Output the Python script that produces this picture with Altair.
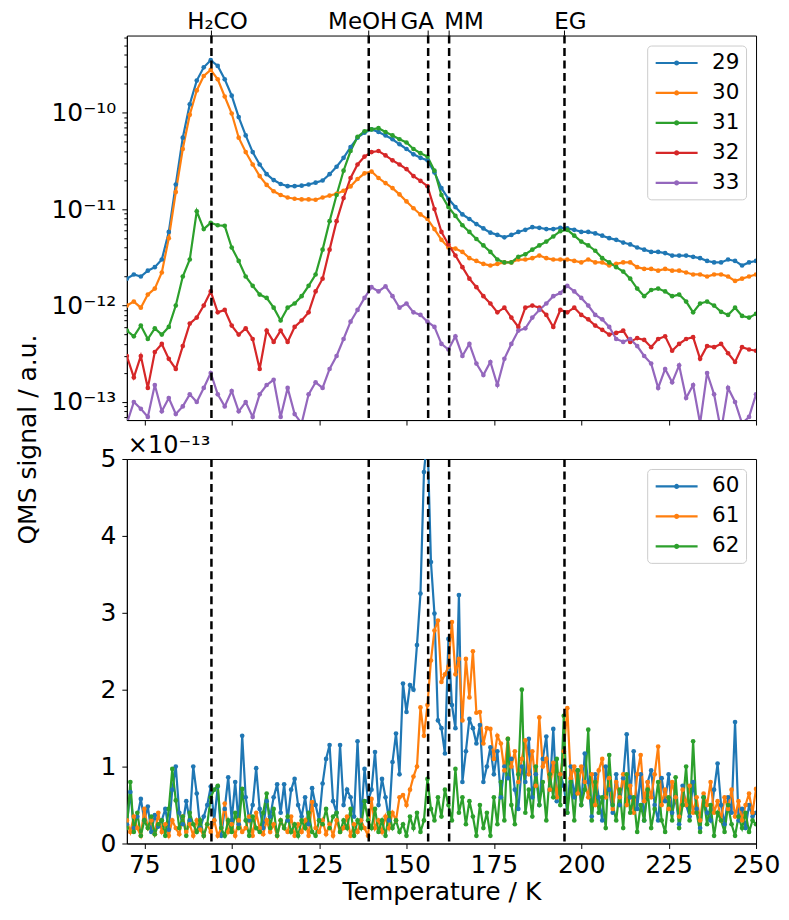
import altair as alt
import pandas as pd

FONT = "DejaVu Sans"

# ---------------- data ----------------
T_TOP = list(range(70, 251, 2))      # K, top panel sampling
T_BOT = list(range(70, 251))         # K, bottom panel sampling

MASS_TOP = ["29", "30", "31", "32", "33"]
MASS_BOT = ["60", "61", "62"]
COL_TOP = ["#1f77b4", "#ff7f0e", "#2ca02c", "#d62728", "#9467bd"]
COL_BOT = ["#1f77b4", "#ff7f0e", "#2ca02c"]

# top panel signals, units of 1e-12 a.u.
M29 = [1.9, 2.1, 2.0, 2.3, 2.5, 3.0, 5.8, 18, 55, 122,
       215, 295, 350, 305, 222, 150, 90, 58, 39, 29,
       23, 20, 18.2, 17.3, 17.3, 17.5, 18, 18.8, 19.8, 23,
       27.5, 34, 44, 55, 62, 67, 63, 58, 53, 47,
       42, 37, 34, 32, 24, 16.5, 12.8, 10.5, 8.8, 7.9,
       7.0, 6.3, 5.7, 5.4, 5.1, 5.4, 5.8, 6.1, 6.5, 6.4,
       6.2, 6.2, 6.4, 6.3, 6.1, 5.8, 5.8, 5.6, 5.3, 5.0,
       4.8, 4.5, 4.3, 4.0, 3.8, 3.6, 3.6, 3.5, 3.3, 3.3,
       3.3, 3.2, 3.1, 2.9, 2.8, 2.8, 3.0, 2.9, 2.6, 2.8,
       2.9]
M30 = [1.0, 1.1, 0.95, 1.3, 1.5, 2.2, 5.0, 15, 42, 95,
       170, 240, 278, 222, 147, 98, 55, 39, 29, 22,
       17.8, 15.3, 14.0, 13.2, 12.8, 12.6, 12.6, 12.5, 13.2, 13.8,
       14.4, 15.5, 17.2, 20.5, 23.5, 24.5, 21, 18.6, 16.5, 14.2,
       12.0, 10.2, 8.8, 7.9, 6.2, 4.8, 4.0, 3.9, 3.6, 3.1,
       2.9, 2.7, 2.6, 2.7, 2.8, 2.8, 3.0, 3.0, 3.1, 3.3,
       3.1, 3.0, 3.0, 3.0, 2.9, 2.8, 3.0, 2.8, 2.8, 2.6,
       2.7, 2.8, 2.8, 2.5, 2.4, 2.4, 2.3, 2.4, 2.3, 2.3,
       2.2, 2.1, 2.1, 2.0, 2.1, 2.1, 2.0, 1.8, 1.9, 2.0,
       2.1]
M31 = [0.55, 0.48, 0.62, 0.45, 0.58, 0.5, 0.6, 1.0, 2.0, 3.0,
       9.5, 6.2, 7.2, 6.8, 6.7, 4.0, 2.9, 2.0, 1.6, 1.3,
       1.2, 0.95, 0.7, 0.95, 1.05, 1.25, 1.6, 2.1, 3.8, 7.5,
       14, 25, 40, 56, 64, 67, 69, 63, 58, 53,
       49, 42, 38, 35, 25, 14, 10.5, 8.5, 6.8, 5.8,
       4.9, 4.2, 3.6, 3.0, 2.8, 2.8, 3.2, 3.4, 3.8, 4.2,
       4.6, 5.2, 5.9, 6.1, 5.3, 4.6, 4.2, 3.7, 3.1, 2.8,
       2.5, 2.25, 1.9, 1.5, 1.25, 1.45, 1.5, 1.4, 1.25, 1.3,
       1.1, 0.85, 1.05, 1.1, 1.0, 0.86, 0.8, 0.95, 0.78, 0.75,
       0.82]
M32 = [0.3, 0.18, 0.3, 0.14, 0.33, 0.4, 0.28, 0.22, 0.38, 0.65,
       0.75, 1.0, 1.4, 0.85, 0.9, 0.62, 0.5, 0.58, 0.45, 0.22,
       0.55, 0.42, 0.55, 0.42, 0.6, 0.7, 0.85, 1.4, 1.9, 3.8,
       7.5, 13, 21, 29, 35, 39, 40, 36, 32, 29,
       26, 22, 19.6, 17.3, 10, 5.8, 4.3, 3.3, 2.5, 1.9,
       1.55, 1.25, 1.05, 0.85, 0.95, 0.75, 0.6, 0.95, 1.0, 0.95,
       0.8, 0.6, 0.9, 0.85, 0.95, 0.8, 0.72, 0.62, 0.56, 0.5,
       0.52, 0.55, 0.42, 0.46, 0.44, 0.37, 0.45, 0.48, 0.34, 0.4,
       0.45, 0.47, 0.28, 0.38, 0.37, 0.4, 0.32, 0.26, 0.37, 0.35,
       0.34]
M33 = [0.06, 0.1, 0.085, 0.07, 0.15, 0.08, 0.11, 0.075, 0.09, 0.12,
       0.1, 0.14, 0.2, 0.12, 0.09, 0.13, 0.08, 0.1, 0.07, 0.12,
       0.15, 0.17, 0.07, 0.14, 0.075, 0.06, 0.12, 0.16, 0.14, 0.22,
       0.3, 0.45, 0.68, 0.9, 1.2, 1.55, 1.4, 1.58, 1.25, 0.95,
       1.05, 0.85, 0.8, 0.68, 0.6, 0.4, 0.35, 0.48, 0.3, 0.4,
       0.25, 0.19, 0.26, 0.15, 0.28, 0.4, 0.55, 0.58, 0.75, 0.9,
       1.05, 1.25, 1.35, 1.6, 1.4, 1.2, 1.0, 0.8, 0.72, 0.6,
       0.45, 0.42, 0.45, 0.38, 0.3, 0.25, 0.14, 0.22, 0.16, 0.24,
       0.11, 0.15, 0.06, 0.2, 0.12, 0.05, 0.14, 0.1, 0.06, 0.07,
       0.12]

# bottom panel signals, units of 1e-13 a.u.
M60 = [0.25, 0.67, 0.2, 0.35, 0.58, 0.3, 0.48, 0.15, 0.37, 0.22,
       0.3, 0.45, 0.18, 0.7, 1.0, 0.4, 0.25, 0.55, 0.3, 1.0,
       0.65, 0.2, 0.35, 0.5, 0.74, 0.3, 0.74, 0.1, 0.45, 0.86,
       0.3, 0.8, 0.25, 1.4, 0.6, 0.3, 0.5, 0.98, 0.45, 0.2,
       0.55, 0.35, 0.6, 0.77, 0.4, 0.77, 0.3, 0.7, 0.84, 0.5,
       0.35, 0.6, 0.25, 0.72, 0.5, 0.3, 0.78, 1.1, 1.28, 0.55,
       0.4, 1.28, 0.5, 0.7, 0.6, 0.35, 1.33, 0.3, 0.97, 0.55,
       0.7, 1.19, 0.5, 0.84, 0.6, 0.3, 1.06, 1.43, 0.9, 2.08,
       1.71, 2.06, 2.0, 2.58, 3.25, 4.83, 5.3, 3.66, 2.99, 1.6,
       1.5, 1.17, 2.66, 1.8, 1.5, 3.23, 0.8, 1.2, 1.62, 1.5,
       1.3, 1.54, 0.8, 1.0, 1.25, 0.9, 1.2, 0.6, 1.0, 0.85,
       1.1, 0.7, 0.45, 1.0, 0.8, 1.36, 0.6, 0.9, 0.5, 1.1,
       1.39, 0.7, 1.49, 0.55, 0.9, 0.75, 0.4, 1.0, 0.6, 0.95,
       0.5, 1.17, 0.8, 0.35, 0.9, 0.6, 0.3, 1.0, 0.7, 0.4,
       0.9, 0.5, 0.85, 1.42, 0.6, 1.2, 0.45, 0.9, 0.3, 0.8,
       0.95, 0.5, 0.3, 0.85, 0.55, 0.9, 0.4, 0.6, 0.25, 0.75,
       0.5, 0.35, 0.8, 0.45, 0.2, 0.6, 0.4, 0.3, 0.7, 1.04,
       0.5, 0.25, 0.6, 0.4, 1.58, 0.3, 0.45, 0.2, 0.5, 0.35,
       0.4]
M61 = [0.3, 0.15, 0.35, 0.2, 0.1, 0.45, 0.2, 0.3, 0.12, 0.4,
       0.15, 0.25, 0.1, 0.3, 0.2, 0.12, 0.35, 0.15, 0.25, 0.1,
       0.3, 0.18, 0.1, 0.25, 0.15, 0.3, 0.1, 0.2, 0.52, 0.15,
       0.25, 0.1, 0.3, 0.15, 0.2, 0.35, 0.1, 0.4, 0.2, 0.12,
       0.3, 0.15, 0.25, 0.1, 0.3, 0.2, 0.15, 0.35, 0.1, 0.25,
       0.15, 0.3, 0.1, 0.54, 0.2, 0.15, 0.3, 0.12, 0.25, 0.1,
       0.3, 0.15, 0.2, 0.35, 0.1, 0.25, 0.15, 0.3, 0.2, 0.1,
       0.58, 0.2, 0.3, 0.15, 0.35, 0.2, 0.4, 0.3, 0.6, 0.63,
       0.5, 0.7, 0.87, 1.0, 1.77, 1.4, 1.8, 2.38, 2.77, 2.9,
       2.1, 2.2, 2.3, 2.88, 2.2, 2.4, 1.6, 2.4, 1.9, 2.5,
       1.7, 1.71, 1.3, 1.5, 1.49, 1.1, 1.4, 1.3, 0.95, 1.36,
       1.0, 1.2, 0.8, 1.1, 1.34, 0.9, 1.2, 0.75, 1.64, 1.0,
       1.1, 0.7, 1.05, 0.6, 0.9, 1.2, 1.76, 0.85, 1.0, 0.65,
       1.0, 0.8, 0.6, 0.9, 0.5, 0.95, 1.1, 0.6, 0.85, 0.45,
       0.8, 0.6, 0.9, 0.5, 0.75, 0.4, 0.9, 1.15, 0.55, 0.8,
       0.6, 0.9, 1.26, 0.5, 0.7, 0.45, 0.8, 0.6, 0.35, 0.7,
       0.5, 0.75, 0.4, 0.6, 0.3, 0.65, 0.5, 0.8, 0.4, 0.55,
       0.3, 0.6, 0.45, 0.7, 0.35, 0.55, 0.3, 0.5, 0.65, 0.4,
       0.71]
M62 = [0.2, 0.8, 0.15, 0.4, 0.1, 0.3, 0.2, 0.35, 0.12, 0.25,
       0.3, 0.1, 0.45, 0.97, 0.56, 0.2, 0.35, 0.1, 0.4, 0.25,
       0.15, 0.3, 0.1, 0.25, 0.6, 0.7, 0.75, 0.2, 0.1, 0.3,
       0.15, 0.4, 0.2, 0.71, 0.3, 0.1, 0.35, 0.2, 0.15, 0.4,
       0.65, 0.2, 0.45, 0.1, 0.3, 0.2, 0.35, 0.15, 0.25, 0.1,
       0.3, 0.2, 0.4, 0.15, 0.1, 0.3, 0.25, 0.45, 0.2, 0.35,
       0.4, 0.15, 0.3, 0.2, 0.45, 0.1, 0.3, 0.2, 0.55, 0.3,
       0.2, 0.45, 0.15, 0.3, 0.1, 0.4, 0.2, 0.3, 0.15, 0.25,
       0.1, 0.35, 0.2, 0.4, 0.15, 0.3, 0.84, 0.45, 0.3, 0.6,
       0.35, 0.7, 0.5, 0.3, 0.97, 0.4, 0.6, 0.25, 0.55, 0.35,
       0.1, 0.5, 0.2, 0.4, 0.1, 0.6, 0.25, 0.8, 0.3, 1.36,
       0.5, 0.25, 0.9, 2.0, 0.4, 0.7, 0.35, 1.0, 0.5, 0.8,
       0.3, 0.9, 0.6, 1.1, 0.5, 1.66, 0.4, 0.8, 0.3, 0.95,
       0.5, 0.7, 1.48, 0.3, 0.8, 0.4, 0.6, 0.2, 1.15, 0.5,
       0.3, 0.7, 0.2, 0.9, 0.4, 0.6, 0.15, 0.5, 0.3, 0.7,
       0.2, 0.45, 0.8, 0.3, 0.15, 0.6, 0.3, 0.86, 0.2, 0.5,
       1.0, 0.3, 1.33, 0.4, 0.15, 0.6, 0.25, 0.5, 0.1, 0.4,
       0.3, 0.15, 0.5, 0.25, 0.1, 0.35, 0.2, 0.4, 0.15, 0.3,
       0.25]

LINE_T = [94.2, 139.2, 156.2, 162.2, 195.2]
LINE_LABEL = ["H\u2082CO", "MeOH", "GA", "MM", "EG"]
X_TICKS = [75, 100, 125, 150, 175, 200, 225, 250]
Y_TICKS_BOT = [0, 1, 2, 3, 4, 5]

# ---------------- frames ----------------
rows = []
for name, vals in zip(MASS_TOP, [M29, M30, M31, M32, M33]):
    for t, v in zip(T_TOP, vals):
        rows.append({"T": t, "signal": v * 1e-12, "mass": name})
top_df = pd.DataFrame(rows)

rows = []
for name, vals in zip(MASS_BOT, [M60, M61, M62]):
    for t, v in zip(T_BOT, vals):
        rows.append({"T": t, "signal": v, "mass": name})
bot_df = pd.DataFrame(rows)

lines_df = pd.DataFrame({"T": LINE_T, "label": LINE_LABEL})

# ---------------- helpers ----------------
Y_LO, Y_HI = 6.5e-14, 6.3e-10
Y_TICKS_TOP = [k * 10.0 ** e for e in range(-14, -9) for k in range(1, 10)
               if Y_LO <= k * 10.0 ** e <= Y_HI]
E = "round(log(datum.value)/LN10)"
DEC = f"abs(log(datum.value)/LN10 - {E}) < 0.001"
LABEL_EXPR = (f"({DEC}) ? ({E} == -10 ? '10\u207b\u00b9\u2070' : {E} == -11 ? '10\u207b\u00b9\u00b9' : "
              f"{E} == -12 ? '10\u207b\u00b9\u00b2' : {E} == -13 ? '10\u207b\u00b9\u00b3' : '') : ''")

SYMBOL = "M-2.1,0L2.1,0M0.15,0A0.15,0.15,0,1,1,-0.15,0A0.15,0.15,0,1,1,0.15,0Z"


def legend():
    return alt.Legend(title=None, orient="top-right", offset=10, padding=6, rowPadding=8,
                      symbolType=SYMBOL, symbolSize=400, symbolStrokeWidth=2.2,
                      symbolOffset=12, labelOffset=24, labelFont=FONT, labelFontSize=21.5,
                      labelColor="black", fillColor="white", strokeColor="#cccccc",
                      cornerRadius=4)


xscale = alt.Scale(domain=[70, 250], nice=False, zero=False)
W, H = 630, 385
LABEL_DX = [6, -6, -11, 15, 6]   # pixel nudges of the species names

# ---------------- top panel ----------------
top_lines = alt.Chart(top_df).mark_line(
    strokeWidth=2.2, clip=True,
    point=alt.OverlayMarkDef(filled=True, size=22, clip=True)
).encode(
    x=alt.X("T:Q", scale=xscale,
            axis=alt.Axis(values=X_TICKS, labels=False, title=None, tickSize=5)),
    y=alt.Y("signal:Q",
            scale=alt.Scale(type="log", domain=[Y_LO, Y_HI], nice=False),
            axis=alt.Axis(values=Y_TICKS_TOP, labelExpr=LABEL_EXPR, labelOverlap=False,
                          title=None, labelPadding=6,
                          tickSize={"condition": {"test": DEC, "value": 5}, "value": 3})),
    color=alt.Color("mass:N", scale=alt.Scale(domain=MASS_TOP, range=COL_TOP), legend=legend()),
)
rules = alt.Chart(lines_df).mark_rule(color="black", strokeDash=[8, 4.5], strokeWidth=2.5).encode(
    x=alt.X("T:Q", scale=xscale))
top_ticks = alt.Chart(lines_df).mark_rule(color="black", strokeWidth=1).encode(
    x=alt.X("T:Q", scale=xscale), y=alt.value(-5), y2=alt.value(0))

label_layers = []
for i, dx in enumerate(LABEL_DX):
    label_layers.append(
        alt.Chart(lines_df.iloc[[i]]).mark_text(
            font=FONT, fontSize=23, color="black", align="center",
            baseline="alphabetic", dx=dx
        ).encode(x=alt.X("T:Q", scale=xscale), y=alt.value(-6.7), text="label:N")
    )

top = alt.layer(top_lines, rules, top_ticks, *label_layers).properties(width=W, height=H)

# ---------------- bottom panel ----------------
bot_lines = alt.Chart(bot_df).mark_line(
    strokeWidth=2.2, clip=True,
    point=alt.OverlayMarkDef(filled=True, size=22, clip=True)
).encode(
    x=alt.X("T:Q", scale=xscale,
            axis=alt.Axis(values=X_TICKS, title="Temperature / K", tickSize=5,
                          labelFlush=False, labelPadding=4, titlePadding=2)),
    y=alt.Y("signal:Q", scale=alt.Scale(domain=[0, 5], nice=False),
            axis=alt.Axis(values=Y_TICKS_BOT, format="d", title=None, tickSize=5,
                          labelPadding=6)),
    color=alt.Color("mass:N", scale=alt.Scale(domain=MASS_BOT, range=COL_BOT), legend=legend()),
)
offset_txt = alt.Chart(pd.DataFrame({"t": ["\u00d710\u207b\u00b9\u00b3"]})).mark_text(
    font=FONT, fontSize=24, color="black", align="left", baseline="alphabetic"
).encode(x=alt.value(1), y=alt.value(-6), text="t:N")
ytitle = alt.Chart(pd.DataFrame({"t": ["QMS signal / a.u."]})).mark_text(
    font=FONT, fontSize=25, color="black", angle=270, align="center", baseline="middle"
).encode(x=alt.value(-98.5), y=alt.value(-19.5), text="t:N")

bottom = alt.layer(bot_lines, rules, offset_txt, ytitle).properties(width=W, height=H)

chart = alt.vconcat(top, bottom, spacing=39, bounds="flush").resolve_scale(
    color="independent"
).properties(
    padding={"left": 7, "top": 1, "right": 0, "bottom": 0}
).configure_view(
    stroke="black", strokeWidth=1
).configure_axis(
    domainColor="black", tickColor="black", labelColor="black", titleColor="black",
    labelFont=FONT, titleFont=FONT, labelFontSize=25, titleFontSize=25,
    titleFontWeight="normal", grid=False, domainWidth=1, tickWidth=1
)

chart.save("out.html", embed_options={"renderer": "svg", "actions": False})
